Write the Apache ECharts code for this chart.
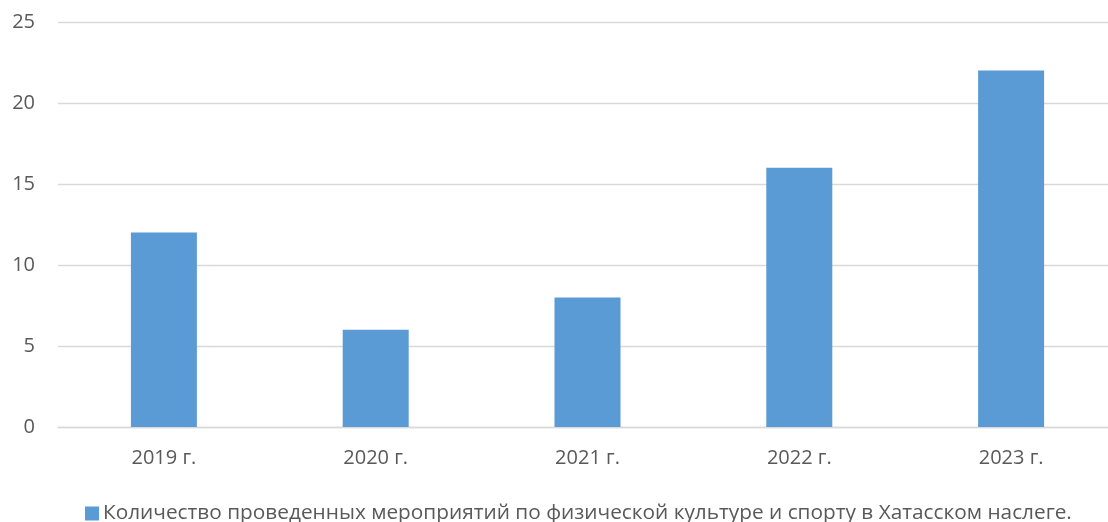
<!DOCTYPE html>
<html><head><meta charset="utf-8">
<script src="https://cdn.jsdelivr.net/npm/echarts@6/dist/echarts.min.js"></script>
<style>html,body{margin:0;padding:0;background:#fff;overflow:hidden;width:1108px;height:522px}#c{width:1117px;height:522px}</style>
</head><body><div id="c"></div>
<script>
const categories = ['2019 г.', '2020 г.', '2021 г.', '2022 г.', '2023 г.'];
const values = [12, 6, 8, 16, 22];
const seriesName = 'Количество проведенных мероприятий по физической культуре и спорту в Хатасском наслеге.';
const yTicks = { min: 0, max: 25, interval: 5 };

const chart = echarts.init(document.getElementById('c'), null, { renderer: 'canvas' });
chart.setOption({
  animation: false,
  textStyle: { fontFamily: 'Open Sans' },
  grid: { left: 58, top: 22, right: 0, height: 405, containLabel: false },
  legend: {
    top: 498, left: 80,
    itemWidth: 14, itemHeight: 14, itemGap: 6,
    icon: 'rect',
    textStyle: { color: '#595959', fontSize: 20.8, fontFamily: 'Open Sans', padding: [0,0,0,-1] },
    data: [seriesName]
  },
  xAxis: {
    type: 'category', data: categories,
    axisLine: { lineStyle: { color: '#d9d9d9', width: 1.3 } },
    axisTick: { show: false },
    axisLabel: { color: '#595959', fontSize: 20, margin: 21 }
  },
  yAxis: {
    type: 'value', min: yTicks.min, max: yTicks.max, interval: yTicks.interval,
    axisLine: { show: false }, axisTick: { show: false },
    splitLine: { lineStyle: { color: '#d9d9d9', width: 1.3 } },
    axisLabel: { color: '#595959', fontSize: 20, margin: 23 }
  },
  series: [{
    name: seriesName, type: 'bar', data: values,
    barWidth: 66,
    itemStyle: { color: '#5b9bd5' }
  }]
});
</script></body></html>
